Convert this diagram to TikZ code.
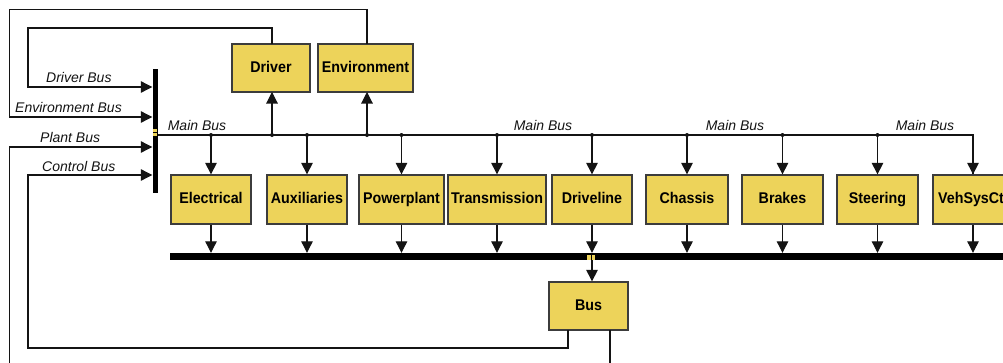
\documentclass[tikz,border=0pt]{standalone}
\usepackage{fontspec}
\setmainfont{Liberation Sans}
\newfontfamily\boxfont[FakeStretch=0.92]{Liberation Sans}
\usetikzlibrary{arrows.meta}
\definecolor{blockfill}{RGB}{237,211,90}
\definecolor{blockline}{RGB}{60,60,60}
\definecolor{wire}{RGB}{20,20,20}
\begin{document}
\begin{tikzpicture}[x=1pt,y=-1pt,
  block/.style={draw=blockline,line width=1.3pt,fill=blockfill,inner sep=0pt,
    text height=11.5pt,text depth=3.5pt,
    minimum height=48pt,font=\boxfont\bfseries\fontsize{15.5}{16}\selectfont},
  wireline/.style={draw=wire,line width=1.1pt},
  sig/.style={wireline,-{Triangle[width=11.5pt,length=11.5pt]}},
  buslabel/.style={font=\itshape\fontsize{14}{15}\selectfont,inner sep=0pt,text=wire},
  tap/.style={circle,fill=wire,inner sep=0pt,minimum size=4pt},
  barstyle/.style={fill=black,inner sep=0pt},
  marker/.style={fill=blockfill,draw=none}]
\useasboundingbox (0,0) rectangle (1003,362);
\clip (0,0) rectangle (1003,362);
\fill[white] (0,0) rectangle (1003,362);

% bus bars
\node[barstyle,minimum width=5pt,minimum height=124pt] (vbar) at (155,131) {};
\node[barstyle,minimum width=850pt,minimum height=7pt] (bbar) at (595,256.5) {};
\fill[marker] (153,129.4) rectangle (157,132.1);
\fill[marker] (153,133.1) rectangle (157,136);
\fill[marker] (587,255.3) rectangle (590.6,259.5);
\fill[marker] (591.6,255.3) rectangle (595.2,259.5);

% top blocks
\node[block,minimum width=78pt] (driver) at (271,68) {Driver};
\node[block,minimum width=95pt] (env) at (365.5,68) {Environment};

% vehicle subsystem blocks
\node[block,minimum width=80pt,minimum height=49pt] (elec) at (211,199.5) {Electrical};
\node[block,minimum width=80pt,minimum height=49pt] (aux) at (307,199.5) {Auxiliaries};
\node[block,minimum width=85pt,minimum height=49pt] (pp) at (401.5,199.5) {Powerplant};
\node[block,minimum width=98pt,minimum height=49pt] (trans) at (497,199.5) {Transmission};
\node[block,minimum width=80pt,minimum height=49pt] (drv) at (592,199.5) {Driveline};
\node[block,minimum width=82pt,minimum height=49pt] (chas) at (687,199.5) {Chassis};
\node[block,minimum width=81pt,minimum height=49pt] (brk) at (782.5,199.5) {Brakes};
\node[block,minimum width=81pt,minimum height=49pt] (steer) at (877.5,199.5) {Steering};
\node[block,minimum width=80pt,minimum height=49pt] (veh) at (973,199.5) {VehSysCtl};

% bus block
\node[block,minimum width=79pt] (bus) at (588.5,306) {Bus};

% main bus line
\coordinate (mb) at (157.5,135);
\draw[wireline] (mb) -- (veh.north |- mb) -- (veh.north);
\draw[sig] (veh.north |- mb) -- (veh.north);
\foreach \b in {elec,aux,pp,trans,drv,chas,brk,steer}{
  \node[tap] at (\b.north |- mb) {};
  \draw[sig] (\b.north |- mb) -- (\b.north);
  \draw[sig] (\b.south) -- (\b.south |- bbar.north);
}
\draw[sig] (veh.south) -- (veh.south |- bbar.north);
\node[tap] at (272,135) {};
\node[tap] at (367,135) {};
\draw[sig] (272,135) -- (272,92);
\draw[sig] (367,135) -- (367,92);

% bar to bus block
\draw[sig] (drv.south |- bbar.south) -- (drv.south |- bus.north);

% feedback loops into the vertical bar
\draw[sig] (272,44) -- (272,28) -- (28,28) -- (28,87) -- (vbar.west |- 0,87);
\draw[sig] (367,44) -- (367,9.5) -- (9.5,9.5) -- (9.5,117) -- (vbar.west |- 0,117);
\draw[sig] (610,330) -- (610,380) -- (9.5,380) -- (9.5,147) -- (vbar.west |- 0,147);
\draw[sig] (568,330) -- (568,348) -- (28,348) -- (28,175) -- (vbar.west |- 0,175);

% labels
\node[buslabel,anchor=west] (lDriver) at (46,77) {Driver Bus};
\node[buslabel,anchor=west] (lEnv) at (15,107) {Environment Bus};
\node[buslabel,anchor=west] (lPlant) at (40,137) {Plant Bus};
\node[buslabel,anchor=west] (lCtrl) at (42,166) {Control Bus};
\node[buslabel] (lMain1) at (197,125) {Main Bus};
\node[buslabel] (lMain2) at (543,125) {Main Bus};
\node[buslabel] (lMain3) at (735,125) {Main Bus};
\node[buslabel] (lMain4) at (925,125) {Main Bus};
\end{tikzpicture}
\end{document}
